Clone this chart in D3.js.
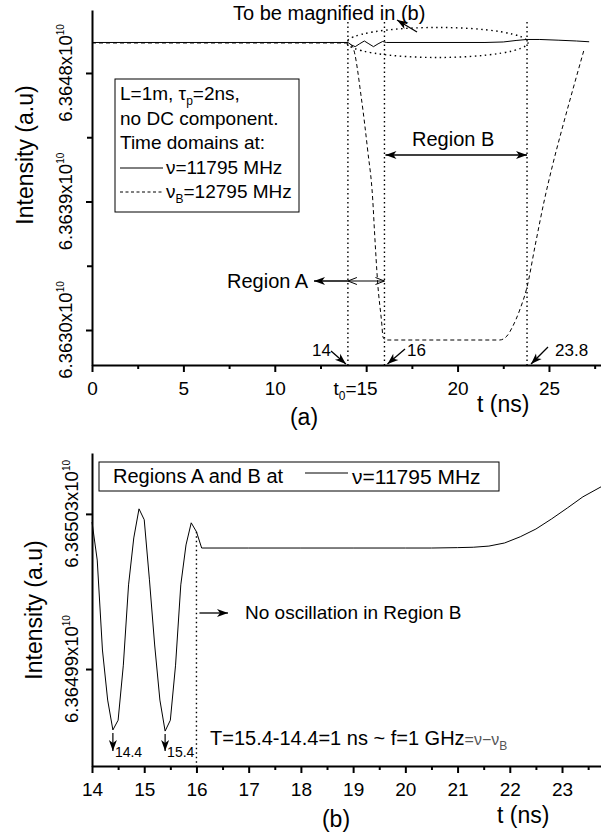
<!DOCTYPE html>
<html>
<head>
<meta charset="utf-8">
<script src="https://cdn.jsdelivr.net/npm/d3@7"></script>
<style>
  body { margin: 0; background: #fff; }
  svg { display: block; font-family: Arial, "Liberation Sans", Helvetica, sans-serif; }
</style>
</head>
<body>
<svg id="chart" width="601" height="837"></svg>
<script>
// ---- panel (a): full time window, intensity in units of 1e10
const solidT = [0, 14.0, 14.2, 14.4, 14.65, 14.9, 15.15, 15.4, 15.65, 15.9, 16.1, 21.5, 22.5, 23.2, 23.8, 24.5, 25.5, 26.5, 27.2];
const solidV = [6.3650136, 6.3650136, 6.3649960, 6.3649842, 6.3650050, 6.3650241, 6.3650040, 6.3649842, 6.3650040,
                6.3650206, 6.3650136, 6.3650136, 6.3650171, 6.3650276, 6.3650346, 6.3650346, 6.3650297, 6.3650240, 6.3650185];
const dashT = [0, 14.0, 14.26, 14.75, 15.08, 15.36, 15.46, 15.63, 15.85, 15.92, 16.07, 22.3, 22.7, 23.0, 23.4, 23.8,
               24.25, 24.75, 25.2, 25.7, 26.3, 26.9];
const dashV = [6.3650101, 6.3650101, 6.3649821, 6.3646109, 6.3642607, 6.3639105, 6.3636794, 6.3633292, 6.3630490,
               6.3629510, 6.3629300, 6.3629300, 6.3629580, 6.3630210, 6.3631400, 6.3633010, 6.3635953, 6.3639105,
               6.3641556, 6.3644008, 6.3646809, 6.3649541];
const yTicksA = [6.3630, 6.3639, 6.3648];
const yMinorA = [6.36345, 6.36435];
const yLabelsA = ["6.3630", "6.3639", "6.3648"];
const xTicksA = [0, 5, 10, 15, 20, 25];
const xMinorA = [2.5, 7.5, 12.5, 17.5, 22.5, 27.5];
const marksA = [14, 16, 23.8];

// ---- panel (b): magnified 14-23.8 ns, nu = 11795 MHz
const zoomT = [14.0, 14.1, 14.2, 14.3, 14.4, 14.5, 14.6, 14.7, 14.8, 14.9, 15.0, 15.1, 15.2, 15.3, 15.4, 15.5, 15.6,
               15.7, 15.8, 15.9, 16.0, 16.1, 17, 18, 19, 20, 20.5, 21.0, 21.3, 21.6, 21.9, 22.2, 22.5, 22.8, 23.1,
               23.4, 23.75];
const zoomV = [6.3650279, 6.3650181, 6.3649949, 6.3649820, 6.3649743, 6.3649768, 6.3649910, 6.3650117, 6.3650238,
               6.3650313, 6.3650285, 6.3650130, 6.3649962, 6.3649820, 6.3649740, 6.3649768, 6.3649910, 6.3650117,
               6.3650220, 6.3650277, 6.3650254, 6.3650212, 6.3650212, 6.3650212, 6.3650212, 6.3650212, 6.3650212,
               6.3650213, 6.3650214, 6.3650217, 6.3650225, 6.3650241, 6.3650261, 6.3650287, 6.3650315, 6.3650344,
               6.3650370];
const yTicksB = [6.36499, 6.36503];
const yLabelsB = ["6.36499", "6.36503"];
const xTicksB = [14, 15, 16, 17, 18, 19, 20, 21, 22, 23];
const xMinorB = [14.5, 15.5, 16.5, 17.5, 18.5, 19.5, 20.5, 21.5, 22.5, 23.5];
const minimaB = [14.4, 15.4];

const svg = d3.select("#chart");

// arrow heads
const defs = svg.append("defs");
defs.append("marker").attr("id", "headF")
  .attr("viewBox", "-12 -5 14 10").attr("refX", 0).attr("refY", 0)
  .attr("markerWidth", 14).attr("markerHeight", 10)
  .attr("markerUnits", "userSpaceOnUse").attr("orient", "auto-start-reverse")
  .append("path").attr("d", "M0,0 L-11,-4 L-8,0 L-11,4 Z").attr("fill", "#000");
defs.append("marker").attr("id", "headO")
  .attr("viewBox", "-12 -5 14 10").attr("refX", 0).attr("refY", 0)
  .attr("markerWidth", 14).attr("markerHeight", 10)
  .attr("markerUnits", "userSpaceOnUse").attr("orient", "auto-start-reverse")
  .append("path").attr("d", "M-9,-3.5 L0,0 L-9,3.5").attr("fill", "none").attr("stroke", "#000").attr("stroke-width", 1);

function arrow(g, x1, y1, x2, y2, opts = {}) {
  const l = g.append("line")
    .attr("x1", x1).attr("y1", y1).attr("x2", x2).attr("y2", y2)
    .attr("stroke", "#000").attr("stroke-width", opts.w || 1.3);
  if (opts.end !== false) l.attr("marker-end", `url(#${opts.head || "headF"})`);
  if (opts.start) l.attr("marker-start", `url(#${opts.head || "headF"})`);
  return l;
}

function label(g, x, y, size, anchor = "start") {
  return g.append("text").attr("x", x).attr("y", y)
    .attr("font-size", size).attr("text-anchor", anchor).attr("fill", "#000");
}

function styleAxis(sel) {
  sel.selectAll(".domain").attr("stroke", "#000").attr("stroke-width", 2);
  sel.selectAll(".tick line").attr("stroke", "#000").attr("stroke-width", 2);
  sel.selectAll("text").attr("fill", "#000").attr("font-size", 19)
    .style("font-family", "Arial, 'Liberation Sans', sans-serif");
}

function drawAxes(g, x, y, xMajor, xMinor, yMajor, yMinor, yLabels, labX) {
  const [y0] = y.range();
  const [x0] = x.range();
  g.append("g").attr("transform", `translate(0,${y0})`)
    .call(d3.axisBottom(x).tickValues(xMinor).tickSize(4).tickFormat("").tickSizeOuter(0))
    .call(styleAxis).select(".domain").remove();
  const gx = g.append("g").attr("transform", `translate(0,${y0})`)
    .call(d3.axisBottom(x).tickValues(xMajor).tickSize(7).tickPadding(10).tickSizeOuter(0))
    .call(styleAxis);
  if (yMinor.length) {
    g.append("g").attr("transform", `translate(${x0},0)`)
      .call(d3.axisLeft(y).tickValues(yMinor).tickSize(5).tickFormat("").tickSizeOuter(0))
      .call(styleAxis).select(".domain").remove();
  }
  g.append("g").attr("transform", `translate(${x0},0)`)
    .call(d3.axisLeft(y).tickValues(yMajor).tickSize(6).tickFormat("").tickSizeOuter(0))
    .call(styleAxis);
  yMajor.forEach((v, i) => {
    const t = g.append("text")
      .attr("transform", `translate(${labX},${y(v)}) rotate(-90)`)
      .attr("text-anchor", "middle").attr("font-size", 18.5);
    t.append("tspan").text(yLabels[i] + "x10");
    t.append("tspan").attr("dy", -8).attr("font-size", 10).text("10");
  });
  return gx;
}

// =================== panel (a) ===================
const xA = d3.scaleLinear().domain([0, 28]).range([92, 603.8]);
const yA = d3.scaleLinear().domain([6.362755, 6.365241]).range([365, 10]);
const gA = svg.append("g");

const lineA = d3.line().x(d => xA(d[0])).y(d => yA(d[1]));
gA.append("path").datum(dashT.map((t, i) => [t, dashV[i]]))
  .attr("d", lineA.curve(d3.curveMonotoneX)).attr("fill", "none")
  .attr("stroke", "#000").attr("stroke-width", 1).attr("stroke-dasharray", "4,3");
gA.append("path").datum(solidT.map((t, i) => [t, solidV[i]]))
  .attr("d", d3.line().x(d => xA(d[0])).y(d => yA(d[1]))).attr("fill", "none")
  .attr("stroke", "#000").attr("stroke-width", 1);

const gxA = drawAxes(gA, xA, yA, xTicksA, xMinorA, yTicksA, yMinorA, yLabelsA, 72);
// t0=15 label
gxA.selectAll(".tick").filter(d => d === 15).select("text").each(function () {
  const t = d3.select(this).text("").attr("text-anchor", "end").attr("x", 11);
  t.append("tspan").text("t");
  t.append("tspan").attr("font-size", 12).attr("dy", 5).text("0");
  t.append("tspan").attr("dy", -5).text("=15");
});

// dotted time markers
marksA.forEach(t => {
  gA.append("line").attr("x1", xA(t)).attr("x2", xA(t)).attr("y1", 22).attr("y2", 365)
    .attr("stroke", "#000").attr("stroke-width", 1.4).attr("stroke-dasharray", "1.5,3");
});
// dotted ellipse around region to magnify
gA.append("ellipse")
  .attr("cx", (xA(14) + xA(23.8)) / 2).attr("cy", yA(solidV[0]))
  .attr("rx", (xA(23.8) - xA(14)) / 2 + 1).attr("ry", 15)
  .attr("fill", "none").attr("stroke", "#000").attr("stroke-width", 1.4).attr("stroke-dasharray", "1.5,3.5");

label(gA, 233, 20, 20).text("To be magnified in (b)");
arrow(gA, 417, 32, 397, 20);

label(gA, 412, 146, 20).text("Region B");
arrow(gA, xA(16) + 1, 155, xA(23.8), 155, { start: true, w: 1.6 });

label(gA, 227, 288, 20).text("Region A");
arrow(gA, xA(14), 281, 314, 281);
arrow(gA, xA(14), 281, xA(16), 281, { start: true, head: "headO", w: 1.2 });

label(gA, 312, 356, 17).text("14");
arrow(gA, 331, 351, xA(14) - 2, 364);
label(gA, 407, 356, 17).text("16");
arrow(gA, 405, 349, xA(16) + 3, 364);
label(gA, 555, 356, 17).text("23.8");
arrow(gA, 548, 347, xA(23.8) + 4, 364);

// legend (a)
gA.append("rect").attr("x", 115).attr("y", 79).attr("width", 184).attr("height", 133)
  .attr("fill", "#fff").attr("stroke", "#000").attr("stroke-width", 1);
const l1 = label(gA, 120, 100, 19);
l1.append("tspan").text("L=1m, τ");
l1.append("tspan").attr("font-size", 12).attr("dy", 5).text("p");
l1.append("tspan").attr("dy", -5).text("=2ns,");
label(gA, 120, 125, 19).text("no DC component.");
label(gA, 120, 149, 19).text("Time domains at:");
gA.append("line").attr("x1", 120).attr("x2", 163).attr("y1", 168).attr("y2", 168)
  .attr("stroke", "#000").attr("stroke-width", 1);
label(gA, 166, 174, 19).text("ν=11795 MHz");
gA.append("line").attr("x1", 120).attr("x2", 163).attr("y1", 192).attr("y2", 192)
  .attr("stroke", "#000").attr("stroke-width", 1).attr("stroke-dasharray", "3,2.5");
const l5 = label(gA, 166, 198, 19);
l5.append("tspan").text("ν");
l5.append("tspan").attr("font-size", 12).attr("dy", 5).text("B");
l5.append("tspan").attr("dy", -5).text("=12795 MHz");

gA.append("text").attr("transform", "translate(33,155) rotate(-90)")
  .attr("text-anchor", "middle").attr("font-size", 23).text("Intensity (a.u)");
label(gA, 477, 412, 23).text("t (ns)");
label(gA, 304, 425, 23, "middle").text("(a)");

// =================== panel (b) ===================
const xB = d3.scaleLinear().domain([14, 23.8]).range([92, 603.8]);
const yB = d3.scaleLinear().domain([6.364965, 6.3650457]).range([766, 453]);
const gB = svg.append("g");

gB.append("path").datum(zoomT.map((t, i) => [t, zoomV[i]]))
  .attr("d", d3.line().x(d => xB(d[0])).y(d => yB(d[1]))).attr("fill", "none")
  .attr("stroke", "#000").attr("stroke-width", 1);

drawAxes(gB, xB, yB, xTicksB, xMinorB, yTicksB, [], yLabelsB, 78);

// dotted line at end of region A
gB.append("line").attr("x1", xB(16)).attr("x2", xB(16))
  .attr("y1", yB(zoomV[zoomT.indexOf(16.0)])).attr("y2", 766)
  .attr("stroke", "#000").attr("stroke-width", 1.4).attr("stroke-dasharray", "1.5,3");

arrow(gB, xB(16) + 3, 613, 228, 613);
label(gB, 245, 619, 19).text("No oscillation in Region B");

minimaB.forEach(t => {
  const v = zoomV[zoomT.indexOf(t)];
  arrow(gB, xB(t), yB(v) + 3, xB(t), 751, { w: 1.2 });
  label(gB, xB(t) + 2, 757, 14).text(t.toFixed(1));
});

const tl = label(gB, 210, 745, 20);
tl.append("tspan").text("T=15.4-14.4=1 ns ~ f=1 GHz");
tl.append("tspan").attr("font-size", 16).attr("fill", "#555").text("=ν−ν");
tl.append("tspan").attr("font-size", 12).attr("fill", "#555").attr("dy", 5).text("B");

// legend (b)
gB.append("rect").attr("x", 99).attr("y", 462).attr("width", 400).attr("height", 29)
  .attr("fill", "#fff").attr("stroke", "#000").attr("stroke-width", 1);
label(gB, 113, 483, 20).text("Regions A and B at");
gB.append("line").attr("x1", 305).attr("x2", 348).attr("y1", 473).attr("y2", 473)
  .attr("stroke", "#000").attr("stroke-width", 1);
label(gB, 352, 484, 21).text("ν=11795 MHz");

gB.append("text").attr("transform", "translate(42,610) rotate(-90)")
  .attr("text-anchor", "middle").attr("font-size", 23).text("Intensity (a.u)");
label(gB, 497, 823, 23).text("t (ns)");
label(gB, 336, 827, 23, "middle").text("(b)");
</script>
</body>
</html>
